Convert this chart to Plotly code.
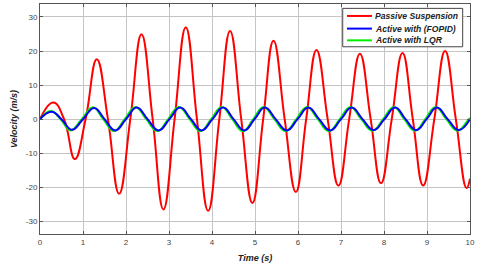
import plotly.graph_objects as go

# Passive suspension: extrema and zero crossings
t_passive = [0, 0.31, 0.56, 0.81, 1.06, 1.32, 1.58, 1.84, 2.10, 2.36, 2.62, 2.87, 3.13,
             3.39, 3.65, 3.91, 4.17, 4.42, 4.68, 4.94, 5.19, 5.43, 5.69, 5.95, 6.19,
             6.43, 6.69, 6.94, 7.19, 7.44, 7.69, 7.93, 8.18, 8.43, 8.67, 8.91, 9.17,
             9.42, 9.67, 9.92, 10.0]
v_passive = [0, 4.9, 0, -11.7, 0, 17.6, 0, -21.9, 0, 24.9, 0, -26.5, 0,
             27.0, 0, -26.9, 0, 25.9, 0, -24.6, 0, 23.0, 0, -21.4, 0,
             20.3, 0, -19.5, 0, 19.2, 0, -18.8, 0, 19.4, 0, -19.5, 0,
             20.0, 0, -20.2, -17.5]

# Active with FOPID
t_fopid = [0, 0.27, 0.50, 0.74, 1.00, 1.26, 1.50, 1.75, 2.00, 2.25, 2.50, 2.76, 3.01,
           3.26, 3.51, 3.76, 4.01, 4.26, 4.50, 4.75, 4.99, 5.23, 5.48, 5.74, 5.99,
           6.24, 6.49, 6.75, 7.00, 7.25, 7.50, 7.76, 8.01, 8.26, 8.50, 8.75, 8.99,
           9.23, 9.48, 9.74, 10.0]
v_fopid = [0, 2.2, 0, -3.1, 0, 3.3, 0, -3.3, 0, 3.4, 0, -3.3, 0,
           3.4, 0, -3.3, 0, 3.4, 0, -3.3, 0, 3.4, 0, -3.3, 0,
           3.4, 0, -3.3, 0, 3.4, 0, -3.2, 0, 3.4, 0, -3.2, 0,
           3.4, 0, -3.2, 0]

# Active with LQR
t_lqr = [0, 0.25, 0.48, 0.71, 0.97, 1.23, 1.47, 1.72, 1.97, 2.22, 2.47, 2.73, 2.98,
         3.23, 3.48, 3.73, 3.98, 4.23, 4.47, 4.72, 4.96, 5.20, 5.45, 5.71, 5.96,
         6.21, 6.46, 6.72, 6.97, 7.22, 7.47, 7.73, 7.98, 8.23, 8.47, 8.72, 8.96,
         9.20, 9.45, 9.71, 9.97, 10.0]
v_lqr = [0, 2.4, 0, -3.3, 0, 3.5, 0, -3.5, 0, 3.6, 0, -3.5, 0,
         3.6, 0, -3.5, 0, 3.6, 0, -3.5, 0, 3.6, 0, -3.5, 0,
         3.6, 0, -3.5, 0, 3.6, 0, -3.4, 0, 3.6, 0, -3.4, 0,
         3.6, 0, -3.4, 0, 0.3]

x_ticks = [0, 1, 2, 3, 4, 5, 6, 7, 8, 9, 10]
y_ticks = [-30, -20, -10, 0, 10, 20, 30]

series_names = ["Passive Suspension", "Active with (FOPID)", "Active with LQR"]
series_colors = ["#ff0000", "#0000ff", "#00ee00"]

FONT = "Liberation Sans, Arial"

fig = go.Figure()
fig.add_trace(go.Scatter(x=t_passive, y=v_passive, mode="lines", name=series_names[0],
                         line=dict(color=series_colors[0], width=2, shape="spline", smoothing=1.3)))
fig.add_trace(go.Scatter(x=t_lqr, y=v_lqr, mode="lines", name=series_names[2],
                         line=dict(color=series_colors[2], width=2, shape="spline", smoothing=1.3)))
fig.add_trace(go.Scatter(x=t_fopid, y=v_fopid, mode="lines", name=series_names[1],
                         line=dict(color=series_colors[1], width=2, shape="spline", smoothing=1.3)))

axis_common = dict(showgrid=True, gridcolor="#c4c4c4", gridwidth=1, zeroline=False,
                   showline=True, linecolor="#555555", linewidth=1, mirror="ticks",
                   ticks="inside", ticklen=3, tickcolor="#555555", automargin=False,
                   tickfont=dict(family=FONT, size=8, color="#444444"))

fig.update_xaxes(range=[0, 10], tickvals=x_ticks, ticktext=[str(v) for v in x_ticks],
                 title=dict(text="<b><i>Time (s)</i></b>", standoff=9,
                            font=dict(family=FONT, size=9, color="#222222")),
                 **axis_common)
fig.update_yaxes(range=[-33.7, 33.8], tickvals=y_ticks, ticktext=[str(v) for v in y_ticks],
                 title=dict(text="<b><i>Velocity (m/s)</i></b>", standoff=6,
                            font=dict(family=FONT, size=9, color="#222222")),
                 **axis_common)

# Legend box drawn as decoration (MATLAB-style compact legend)
leg_x0, leg_x1, leg_y0, leg_y1 = 0.704, 0.983, 0.814, 0.981
row_y = [0.948, 0.893, 0.842]
fig.add_shape(type="rect", xref="paper", yref="paper", x0=leg_x0, x1=leg_x1, y0=leg_y0, y1=leg_y1,
              line=dict(color="#444444", width=1), fillcolor="white", layer="above")
for name, col, yy in zip(series_names, series_colors, row_y):
    fig.add_shape(type="line", xref="paper", yref="paper", x0=0.714, x1=0.772, y0=yy, y1=yy,
                  line=dict(color=col, width=2), layer="above")
    fig.add_annotation(xref="paper", yref="paper", x=0.774, y=yy, xanchor="left", yanchor="middle",
                       text="<b><i>" + name + "</i></b>", showarrow=False,
                       font=dict(family=FONT, size=8.6, color="#222222"))

fig.update_layout(
    width=480, height=269,
    margin=dict(l=40, r=10, t=4, b=35),
    paper_bgcolor="white", plot_bgcolor="white",
    showlegend=False,
)

fig.write_html("out.html", config={"displayModeBar": False},
               post_script="document.body.style.margin='0';")
